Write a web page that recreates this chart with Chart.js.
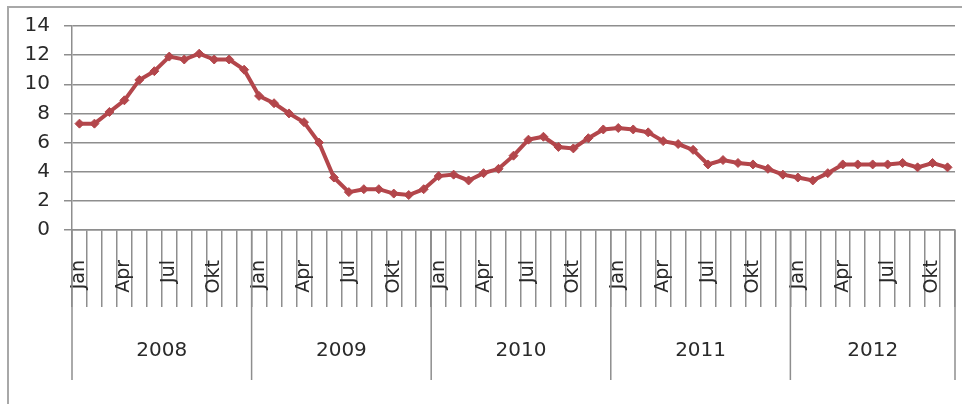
<!DOCTYPE html>
<html>
<head>
<meta charset="utf-8">
<script src="https://cdn.jsdelivr.net/npm/chart.js@4/dist/chart.umd.min.js"></script>
<style>
html,body{margin:0;padding:0;background:#fff;}
#wrap{width:962px;height:404px;}
</style>
</head>
<body>
<div id="wrap"><canvas id="c" width="962" height="404"></canvas></div>
<script>
const years = ['2008', '2009', '2010', '2011', '2012'];
const monthNames = ['Jan','Feb','Mar','Apr','Mai','Jun','Jul','Aug','Sep','Okt','Nov','Des'];
const monthsPerYear = [12, 12, 12, 12, 11];
const shownMonths = ['Jan', 'Apr', 'Jul', 'Okt'];
const yTicks = [0, 2, 4, 6, 8, 10, 12, 14];

const values2008 = [7.3, 7.3, 8.1, 8.9, 10.3, 10.9, 11.9, 11.7, 12.1, 11.7, 11.7, 11.0];
const values2009 = [9.2, 8.7, 8.0, 7.4, 6.0, 3.6, 2.6, 2.8, 2.8, 2.5, 2.4, 2.8];
const values2010 = [3.7, 3.8, 3.4, 3.9, 4.2, 5.1, 6.2, 6.4, 5.7, 5.6, 6.3, 6.9];
const values2011 = [7.0, 6.9, 6.7, 6.1, 5.9, 5.5, 4.5, 4.8, 4.6, 4.5, 4.2, 3.8];
const values2012 = [3.6, 3.4, 3.9, 4.5, 4.5, 4.5, 4.5, 4.6, 4.3, 4.6, 4.3];

const labels = [];
monthsPerYear.forEach((n, yi) => {
  for (let m = 0; m < n; m++) labels.push(monthNames[m]);
});
const values = [].concat(values2008, values2009, values2010, values2011, values2012);

const FONT = "'DejaVu Sans', Verdana, sans-serif";
const TEXT = '#2a2a2a';
const GRID = '#8e8e8e';

const framePlugin = {
  id: 'frame',
  beforeDraw(chart) {
    const ctx = chart.ctx;
    ctx.save();
    ctx.strokeStyle = '#a8a8a8';
    ctx.lineWidth = 2;
    ctx.beginPath();
    ctx.moveTo(8, 404);
    ctx.lineTo(8, 7);
    ctx.lineTo(962, 7);
    ctx.stroke();
    ctx.restore();
  }
};

const yearPlugin = {
  id: 'years',
  afterDraw(chart) {
    const x = chart.scales.x;
    const ctx = chart.ctx;
    const step = x.getPixelForValue(1) - x.getPixelForValue(0);
    const y0 = chart.chartArea.bottom;
    ctx.save();
    ctx.strokeStyle = GRID;
    ctx.lineWidth = 1.5;
    ctx.fillStyle = TEXT;
    ctx.font = '20px ' + FONT;
    ctx.textAlign = 'center';
    ctx.textBaseline = 'middle';
    let start = 0;
    const bounds = [];
    monthsPerYear.forEach((n, yi) => {
      const left = x.getPixelForValue(start) - step / 2;
      const right = x.getPixelForValue(start + n - 1) + step / 2;
      bounds.push(left);
      if (yi === monthsPerYear.length - 1) bounds.push(right);
      ctx.fillText(years[yi], (left + right) / 2, y0 + 121);
      start += n;
    });
    bounds.forEach(b => {
      ctx.beginPath();
      ctx.moveTo(b, y0);
      ctx.lineTo(b, y0 + 150);
      ctx.stroke();
    });
    ctx.restore();
  }
};

new Chart(document.getElementById('c'), {
  type: 'line',
  data: {
    labels: labels,
    datasets: [{
      data: values,
      borderColor: '#b3464b',
      backgroundColor: '#b3464b',
      borderWidth: 4,
      pointStyle: 'rectRot',
      pointRadius: 4.5,
      pointBorderWidth: 1,
      tension: 0
    }]
  },
  options: {
    responsive: false,
    animation: false,
    devicePixelRatio: 1,
    layout: { padding: { left: 0, top: 23, right: 7, bottom: 0 } },
    plugins: { legend: { display: false }, tooltip: { enabled: false } },
    scales: {
      x: {
        type: 'category',
        offset: true,
        afterFit(scale) { scale.height = 174; },
        border: { display: true, color: GRID, width: 1.5 },
        grid: {
          display: true,
          drawOnChartArea: false,
          drawTicks: true,
          offset: true,
          tickLength: 77,
          color: GRID,
          lineWidth: 1.5
        },
        ticks: {
          autoSkip: false,
          maxRotation: 90,
          minRotation: 90,
          padding: -47,
          color: TEXT,
          font: { family: FONT, size: 19 },
          callback(v, i) {
            const l = labels[i];
            return shownMonths.includes(l) ? l : '';
          }
        }
      },
      y: {
        min: 0,
        max: 14,
        afterFit(scale) { scale.width = 72; },
        afterBuildTicks(scale) { scale.ticks = yTicks.map(v => ({ value: v })); },
        border: { display: true, color: GRID, width: 1.5 },
        grid: {
          color: GRID,
          lineWidth: 1.5,
          drawTicks: true,
          tickLength: 8
        },
        ticks: {
          padding: 14,
          color: TEXT,
          font: { family: FONT, size: 20 }
        }
      }
    }
  },
  plugins: [framePlugin, yearPlugin]
});
</script>
</body>
</html>
